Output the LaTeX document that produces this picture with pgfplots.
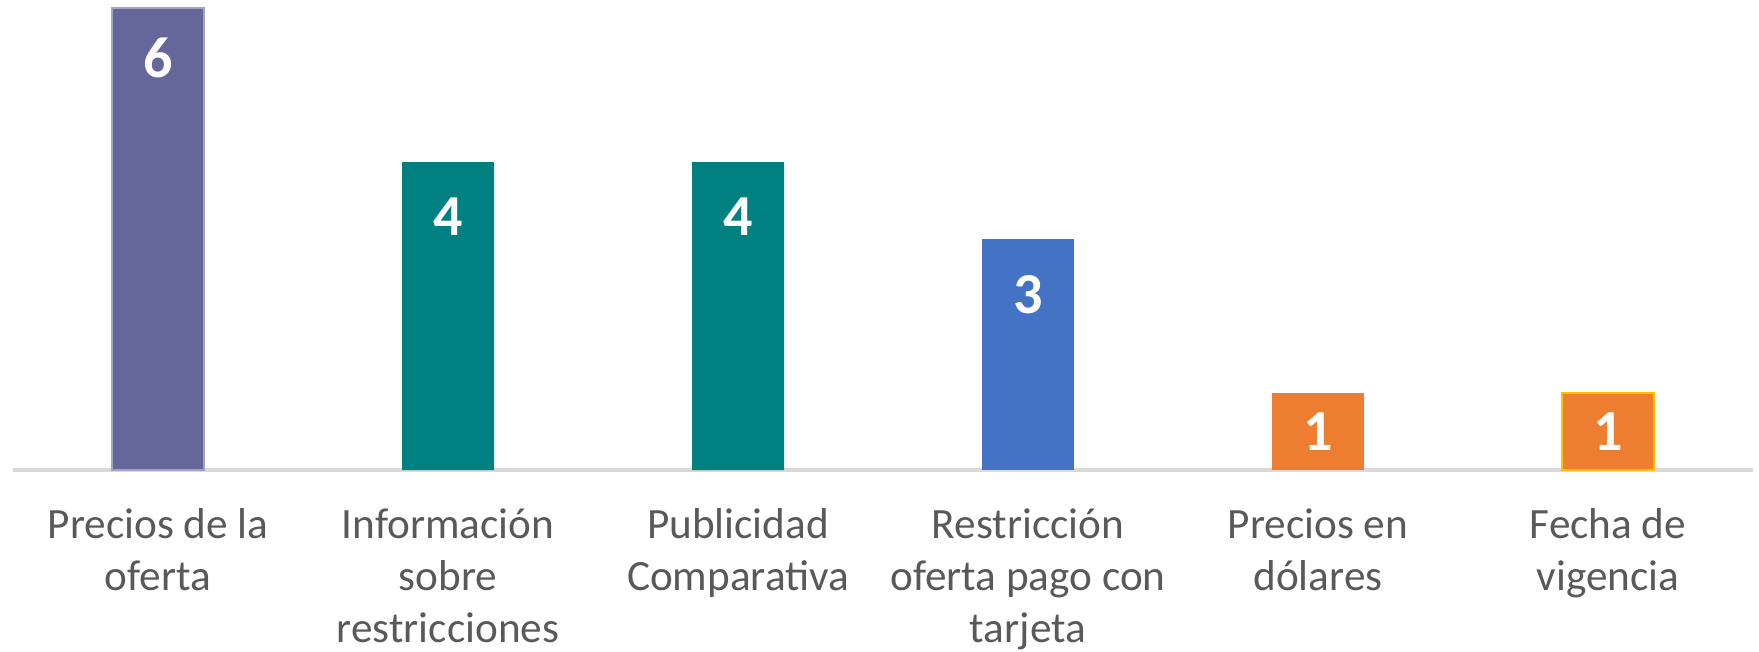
\documentclass[border=0pt]{standalone}
\usepackage{pgfplots}
\pgfplotsset{compat=1.18}
\usepackage{fontspec}
\setmainfont{Carlito}
\definecolor{cpurple}{HTML}{656699}
\definecolor{cteal}{HTML}{008080}
\definecolor{cblue}{HTML}{4472C4}
\definecolor{corange}{HTML}{ED7D31}
\definecolor{cgold}{HTML}{FFC000}
\definecolor{ctext}{HTML}{595959}
\definecolor{caxis}{HTML}{D9D9D9}
\begin{document}
\begin{tikzpicture}
\useasboundingbox (-0.13,-1.81) rectangle (17.46,4.70);
\begin{axis}[at={(0,0)}, anchor=south west,
  scale only axis, width=17.40cm, height=4.70cm,
  xmin=-0.5, xmax=5.5, ymin=0, ymax=6.104,
  hide y axis,
  axis x line=bottom,
  x axis line style={draw=caxis, line width=1.2pt, -},
  xtick={0,1,2,3,4,5},
  major tick length=0pt,
  xticklabels={{Precios de la\\oferta},{Información\\sobre\\restricciones},{Publicidad\\Comparativa},{Restricción\\oferta pago con\\tarjeta},{Precios en\\dólares},{Fecha de\\vigencia}},
  xticklabel style={align=center, font=\fontsize{12.3pt}{14.8pt}\selectfont, text=ctext, yshift=-0.26cm},
  ybar, bar width=0.92cm, bar shift=0pt,
  clip=false,
  /pgf/number format/assume math mode=true,
  nodes near coords,
  every node near coord/.append style={font=\fontsize{16.5pt}{18pt}\selectfont\bfseries, text=white, anchor=center},
]
\addplot[fill=cpurple, draw=cpurple!60!white, nodes near coords style={yshift=-0.50cm}] coordinates {(0,6)};
\addplot[fill=cteal, draw=none, nodes near coords style={yshift=-0.55cm}] coordinates {(1,4) (2,4)};
\addplot[fill=cblue, draw=none, nodes near coords style={yshift=-0.56cm}] coordinates {(3,3)};
\addplot[fill=corange, draw=none, nodes near coords style={yshift=-0.39cm}] coordinates {(4,1)};
\addplot[fill=corange, draw=cgold, line width=0.8pt, nodes near coords style={yshift=-0.39cm}] coordinates {(5,1)};
\end{axis}
\end{tikzpicture}
\end{document}
